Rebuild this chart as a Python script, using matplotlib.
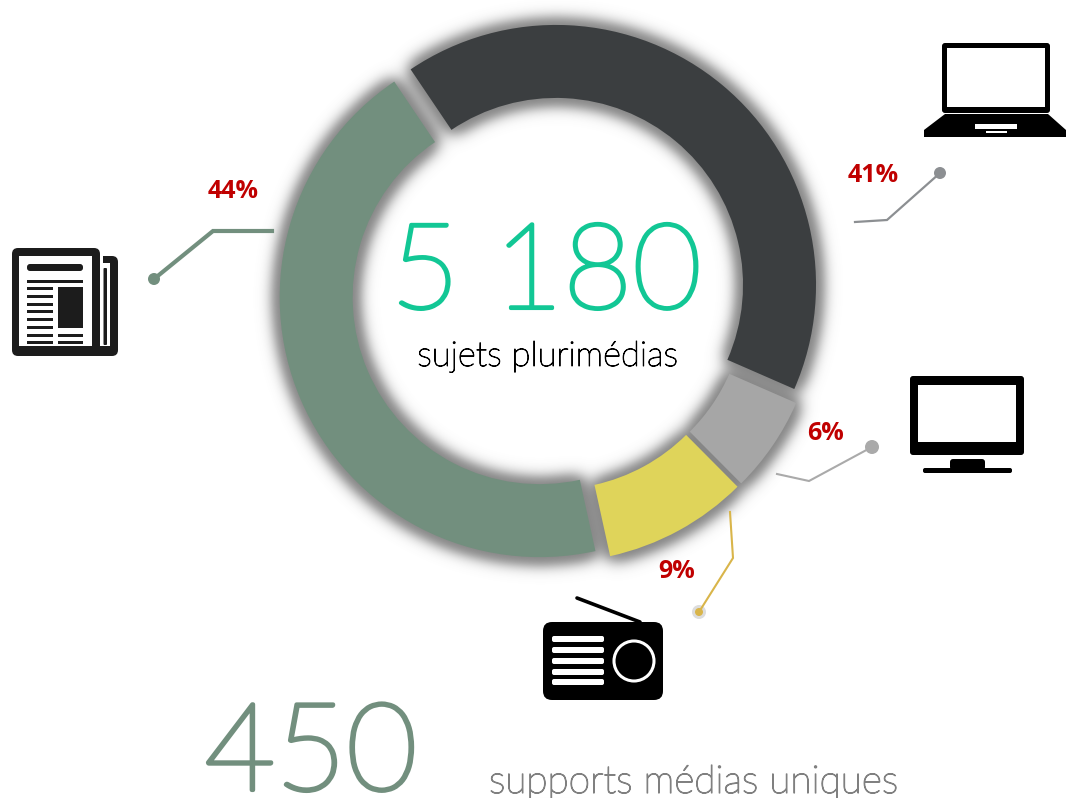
import matplotlib

matplotlib.use("Agg")
import matplotlib.patheffects as pe
import matplotlib.pyplot as plt
import numpy as np
from matplotlib.patches import Circle, FancyBboxPatch, Polygon, Rectangle

W, H = 1066, 798

# share of subjects per media, clockwise from the top left
media = ["Web", "TV", "Radio", "Presse"]
shares = [41, 6, 9, 44]
share_labels = ["41%", "6%", "9%", "44%"]
colors = ["#3b3e40", "#a6a6a6", "#dfd45a", "#728f7e"]

total_subjects = "5 180"
total_caption = "sujets plurimédias"
unique_supports = "450"
unique_caption = "supports médias uniques"

CX, CY = 549.3, 293
R_OUT, R_IN = 260, 187
START = 124
EXPLODE = 10.5


def py(y):
    return H - y


def box(ax, x0, y0, x1, y1, color="black", rad=3, z=5):
    ax.add_patch(
        FancyBboxPatch(
            (x0 + rad, py(y1) + rad),
            x1 - x0 - 2 * rad,
            y1 - y0 - 2 * rad,
            boxstyle=f"round,pad={rad},rounding_size={rad}",
            fc=color,
            ec="none",
            zorder=z,
        )
    )


def rect(ax, x0, y0, x1, y1, color="white", z=6):
    ax.add_patch(Rectangle((x0, py(y1)), x1 - x0, y1 - y0, fc=color, ec="none", zorder=z))


def draw_laptop(ax):
    box(ax, 942, 43, 1050, 113)
    rect(ax, 947, 48, 1045, 107)
    pts = [(945, 114), (1048, 114), (1066, 130), (1066, 137), (924, 137), (924, 130)]
    ax.add_patch(Polygon([(x, py(y)) for x, y in pts], fc="black", ec="none", zorder=5))
    rect(ax, 975, 124, 1017, 129)
    rect(ax, 986, 131, 1007, 133)


def draw_tv(ax):
    box(ax, 910, 376, 1024, 455)
    rect(ax, 918, 385, 1016, 442)
    box(ax, 950, 459, 985, 470, rad=3)
    box(ax, 923, 468, 1012, 473, rad=2)


def draw_radio(ax):
    ax.plot([577, 640], [py(598), py(622)], color="black", lw=2.6, zorder=5, solid_capstyle="round")
    box(ax, 543, 622, 663, 700, rad=9)
    for y in [639, 650, 661, 672, 682]:
        box(ax, 552, y - 3, 604, y + 3, color="white", rad=2, z=6)
    ax.add_patch(Circle((634, py(661)), 20, fc="black", ec="white", lw=2.2, zorder=6))


def draw_paper(ax):
    ink = "#1c1c1c"
    box(ax, 12, 248, 100, 356, color=ink, rad=6)
    box(ax, 90, 256, 118, 356, color=ink, rad=6)
    rect(ax, 19, 256, 92, 346)
    rect(ax, 100, 250, 103, 346)
    rect(ax, 103, 263, 110, 347)
    rect(ax, 92, 346, 110, 348, color=ink, z=6)
    box(ax, 103.5, 268, 107, 345, color=ink, rad=1, z=7)
    box(ax, 27, 264, 83, 271, color=ink, rad=3, z=7)
    rect(ax, 27, 280, 83, 283, color=ink, z=7)
    for y in [288, 296, 304, 311, 319, 327, 335, 342]:
        rect(ax, 27, y - 1.5, 53, y + 1.5, color=ink, z=7)
    rect(ax, 58, 287, 83, 328, color=ink, z=7)
    for y in [335, 342]:
        rect(ax, 58, y - 1.5, 83, y + 1.5, color=ink, z=7)


def leader(ax, pts, color, lw, dot, r):
    xs = [p[0] for p in pts]
    ys = [py(p[1]) for p in pts]
    ax.plot(xs, ys, color=color, lw=lw, zorder=4, solid_joinstyle="miter")
    ax.add_patch(Circle((dot[0], py(dot[1])), r, fc=color, ec="none", zorder=4))


def soft_shadow(sigma=9.0):
    # mask of the exploded wedges, blurred through fft
    yy, xx = np.mgrid[0:H, 0:W]
    mask = np.zeros((H, W))
    ends = START - np.cumsum(shares) * 3.6
    starts = ends + np.array(shares) * 3.6
    for a0, a1 in zip(starts, ends):
        mid = np.deg2rad((a0 + a1) / 2)
        dx = xx - (CX + EXPLODE * np.cos(mid))
        dy = (CY - EXPLODE * np.sin(mid)) - yy
        r = np.hypot(dx, dy)
        ang = np.rad2deg(np.arctan2(dy, dx))
        delta = (a0 - ang) % 360
        mask[(r <= R_OUT) & (r >= R_IN) & (delta <= a0 - a1)] = 1
    fx = np.fft.fftfreq(W)[None, :]
    fy = np.fft.fftfreq(H)[:, None]
    gauss = np.exp(-2 * (np.pi * sigma) ** 2 * (fx**2 + fy**2))
    return np.real(np.fft.ifft2(np.fft.fft2(mask) * gauss))


def main():
    fig = plt.figure(figsize=(W / 100, H / 100), dpi=100, facecolor="white")
    ax = fig.add_axes([0, 0, 1, 1])

    # tanh keeps the glow dense next to the ring but with no hard edge
    halo = np.zeros((H, W, 4))
    halo[..., :3] = 0.4
    halo[..., 3] = 0.8 * np.tanh(np.clip(soft_shadow(), 0, 1) * 3.5)
    ax.imshow(halo, extent=(0, W, 0, H), origin="upper", zorder=0, interpolation="bilinear")

    ax.pie(
        shares,
        colors=colors,
        startangle=START,
        counterclock=False,
        explode=[EXPLODE] * len(shares),
        center=(CX, py(CY)),
        radius=R_OUT,
        wedgeprops={"width": R_OUT - R_IN, "linewidth": 0, "zorder": 1},
    )

    ax.set_xlim(0, W)
    ax.set_ylim(0, H)
    ax.set_aspect("auto")
    ax.axis("off")

    leader(ax, [(272, 231), (213, 231), (154, 279)], "#728f7e", 3, (154, 279), 6)
    leader(ax, [(855, 222), (887, 220), (940, 173)], "#8c8f92", 1.6, (940, 173), 6)
    leader(ax, [(777, 474), (809, 481), (872, 447)], "#aaaaaa", 1.5, (872, 447), 7)
    ax.add_patch(Circle((699, py(612)), 7, fc="#dddddd", ec="none", zorder=3))
    leader(ax, [(730, 512), (733, 558), (699, 612)], "#d9b54a", 1.5, (699, 612), 4)

    label_pos = [(873, 176), (825, 434), (677, 572), (233, 192)]
    for txt, (x, y) in zip(share_labels, label_pos):
        ax.text(x, py(y), txt, color="#c00000", fontsize=18, fontweight="bold",
                family="Open Sans", ha="center", va="center", zorder=8)

    # the light cuts come out as hairlines, a stroke gives them the round even weight
    big = [pe.withStroke(linewidth=2.6, foreground="#12c795")]
    ax.text(546, py(276), total_subjects, color="#12c795", fontsize=86, family="Lato",
            fontweight="light", ha="center", va="center", zorder=8, path_effects=big)
    ax.text(548, py(356), total_caption, color="black", fontsize=25, family="Lato",
            fontweight="light", ha="center", va="center", zorder=8,
            path_effects=[pe.withStroke(linewidth=0.7, foreground="black")])
    ax.text(311, py(757), unique_supports, color="#728f7e", fontsize=88, family="Lato",
            fontweight="light", ha="center", va="center", zorder=8,
            path_effects=[pe.withStroke(linewidth=3.0, foreground="#728f7e")])
    ax.text(694, py(782), unique_caption, color="#808080", fontsize=28, family="Lato",
            fontweight="light", ha="center", va="center", zorder=8,
            path_effects=[pe.withStroke(linewidth=0.9, foreground="#808080")])

    draw_laptop(ax)
    draw_tv(ax)
    draw_radio(ax)
    draw_paper(ax)

    fig.savefig("out.png", dpi=100)


if __name__ == "__main__":
    main()
